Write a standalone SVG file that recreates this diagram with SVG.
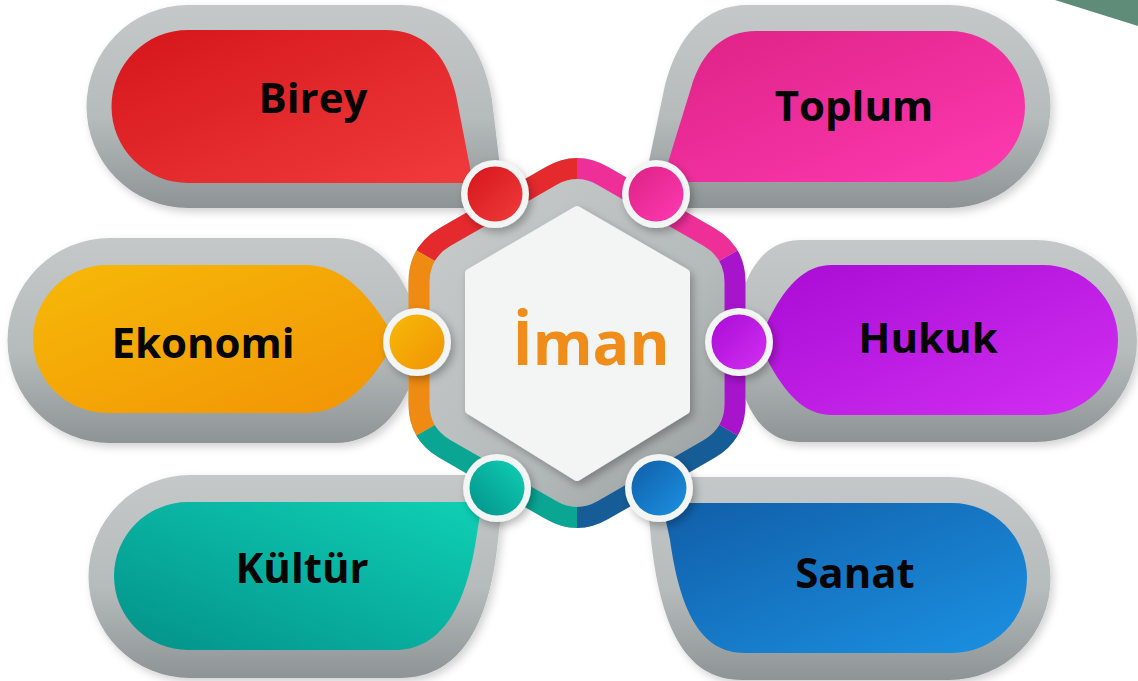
<svg xmlns="http://www.w3.org/2000/svg" width="1138" height="681" viewBox="0 0 1138 681">
<style>
.lbl{font-family:"Open Sans","Liberation Sans",sans-serif;font-weight:700;font-size:42px;fill:#050505;text-anchor:middle}
.ctr{font-family:"Open Sans","Liberation Sans",sans-serif;font-weight:700;font-size:61px;fill:#f08c1a;text-anchor:middle}
.gray{fill:url(#gGray);filter:url(#sh)}
.ring-w{fill:#f3f4f4;filter:url(#shs)}
.seg{fill:none}
</style>
<defs>
<linearGradient id="gGray" x1="0" y1="0" x2="0" y2="1">
<stop offset="0" stop-color="#c4c8c9"/><stop offset="0.55" stop-color="#b6bbbc"/><stop offset="1" stop-color="#8e9495"/>
</linearGradient>
<linearGradient id="gHexGray" x1="0" y1="0" x2="1" y2="1">
<stop offset="0" stop-color="#c9cdce"/><stop offset="0.6" stop-color="#b5babb"/><stop offset="1" stop-color="#939899"/>
</linearGradient>
<linearGradient id="gRed" x1="0" y1="0" x2="1" y2="1"><stop offset="0" stop-color="#d5161b"/><stop offset="1" stop-color="#f03b3c"/></linearGradient>
<linearGradient id="gPink" x1="0" y1="0" x2="1" y2="1"><stop offset="0" stop-color="#dd2285"/><stop offset="1" stop-color="#ff3ab2"/></linearGradient>
<linearGradient id="gOrange" x1="0" y1="0" x2="1" y2="1"><stop offset="0" stop-color="#f6b908"/><stop offset="1" stop-color="#f29305"/></linearGradient>
<linearGradient id="gPurple" x1="0" y1="0" x2="1" y2="1"><stop offset="0" stop-color="#a90cd4"/><stop offset="1" stop-color="#d22ff2"/></linearGradient>
<linearGradient id="gTeal" x1="0" y1="1" x2="1" y2="0"><stop offset="0" stop-color="#03918a"/><stop offset="1" stop-color="#0fd0b5"/></linearGradient>
<linearGradient id="gBlue" x1="0" y1="0" x2="1" y2="1"><stop offset="0" stop-color="#115ea8"/><stop offset="1" stop-color="#1b91e2"/></linearGradient>
<filter id="sh" x="-10%" y="-10%" width="125%" height="130%">
<feDropShadow dx="3" dy="4" stdDeviation="4" flood-color="#000" flood-opacity="0.18"/>
</filter>
<filter id="shs" x="-20%" y="-20%" width="140%" height="140%">
<feDropShadow dx="3" dy="4" stdDeviation="4" flood-color="#000" flood-opacity="0.28"/>
</filter>
<clipPath id="wRed"><polygon points="577,343 577,40 310,40 310,189"/></clipPath>
<clipPath id="wOrange"><polygon points="577,343 310,189 310,497"/></clipPath>
<clipPath id="wTeal"><polygon points="577,343 310,497 310,650 577,650"/></clipPath>
<clipPath id="wBlue"><polygon points="577,343 577,650 844,650 844,497"/></clipPath>
<clipPath id="wPurple"><polygon points="577,343 844,497 844,189"/></clipPath>
<clipPath id="wPink"><polygon points="577,343 844,189 844,40 577,40"/></clipPath>
<path id="ringShape" d="M551,176 Q577,161 603,176 L709,237 Q735,252 735,282 L735,404 Q735,434 709,449 L603,510 Q577,525 551,510 L445,449 Q419,434 419,404 L419,282 Q419,252 445,237 Z" stroke-width="21"/>
</defs>
<rect width="1138" height="681" fill="#ffffff"/>
<polygon points="1055,0 1138,0 1138,26" fill="#5f8b79"/>

<g id="node-birey">
<path class="gray" d="M188,5 H402 C450,5 482,40 492,100 L505,208 H188 A101.5,101.5 0 0 1 188,5 Z"/>
<path fill="url(#gRed)" d="M188,30 H385 C422,30 446,52 456,95 L473,183 H188 A76.5,76.5 0 0 1 188,30 Z"/>
<text class="lbl" x="313" y="113">Birey</text>
</g>
<g id="node-toplum">
<path class="gray" d="M949,5 H748 C705,5 678,35 665,85 L645,180 L640,208 H949 A101.5,101.5 0 0 0 949,5 Z"/>
<path fill="url(#gPink)" d="M949.5,31 H756 C725,31 702,50 691,88 L662,182 H949.5 A75.5,75.5 0 0 0 949.5,31 Z"/>
<text class="lbl" x="854" y="121">Toplum</text>
</g>
<g id="node-ekonomi">
<path class="gray" d="M110,238 H335 C375,238 402,268 418,318 L418,365 C402,415 375,443 335,443 H110 A102.5,102.5 0 0 1 110,238 Z"/>
<path fill="url(#gOrange)" d="M107,265 H305 C340,265 366,290 390,330 L390,350 C366,390 340,413 305,413 H107 A74,74 0 0 1 107,265 Z"/>
<text class="lbl" x="203" y="358">Ekonomi</text>
</g>
<g id="node-hukuk">
<path class="gray" d="M1036,240 H800 C770,240 750,262 740,300 L740,382 C750,420 770,442 800,442 H1036 A101,101 0 0 0 1036,240 Z"/>
<path fill="url(#gPurple)" d="M1043,265 H832 C805,265 785,285 766,325 L766,357 C785,395 805,415 832,415 H1043 A75,75 0 0 0 1043,265 Z"/>
<text class="lbl" x="928" y="353">Hukuk</text>
</g>
<g id="node-kultur">
<path class="gray" d="M190,475 H495 L502,505 L498,540 C490,620 463,678 400,678 H190 A101.5,101.5 0 0 1 190,475 Z"/>
<path fill="url(#gTeal)" d="M188,502 H482 L476,540 C465,610 440,650 395,650 H188 A74,74 0 0 1 188,502 Z"/>
<text class="lbl" x="302" y="583">Kültür</text>
</g>
<g id="node-sanat">
<path class="gray" d="M949,477 H660 L648,505 L651,540 C660,620 682,680 742,680 H949 A101.5,101.5 0 0 0 949,477 Z"/>
<path fill="url(#gBlue)" d="M952,503 H662 L670,540 C680,610 700,653 745,653 H952 A75,75 0 0 0 952,503 Z"/>
<text class="lbl" x="855" y="588">Sanat</text>
</g>

<g id="connectors">
<use href="#ringShape" fill="url(#gHexGray)" stroke="#bfc4c5"/>
<use href="#ringShape" class="seg" stroke="#e52a2e" clip-path="url(#wRed)"/>
<use href="#ringShape" class="seg" stroke="#ef8a12" clip-path="url(#wOrange)"/>
<use href="#ringShape" class="seg" stroke="#0aa593" clip-path="url(#wTeal)"/>
<use href="#ringShape" class="seg" stroke="#165c96" clip-path="url(#wBlue)"/>
<use href="#ringShape" class="seg" stroke="#a714cb" clip-path="url(#wPurple)"/>
<use href="#ringShape" class="seg" stroke="#ef2f98" clip-path="url(#wPink)"/>
</g>

<g id="node-iman">
<polygon class="ring-w" points="577,210 686,273 686,410 577,477 469,410 469,273" stroke="#f3f4f4" stroke-width="8" stroke-linejoin="round"/>
<text class="ctr" x="591" y="365">İman</text>
</g>

<g id="dots">
<circle cx="495" cy="194" r="34" class="ring-w"/><circle cx="495" cy="194" r="27.5" fill="url(#gRed)"/>
<circle cx="656" cy="194" r="34" class="ring-w"/><circle cx="656" cy="194" r="27.5" fill="url(#gPink)"/>
<circle cx="417" cy="342" r="34" class="ring-w"/><circle cx="417" cy="342" r="27.5" fill="url(#gOrange)"/>
<circle cx="739" cy="342" r="34" class="ring-w"/><circle cx="739" cy="342" r="27.5" fill="url(#gPurple)"/>
<circle cx="497" cy="488" r="34" class="ring-w"/><circle cx="497" cy="488" r="27.5" fill="url(#gTeal)"/>
<circle cx="659" cy="488" r="34" class="ring-w"/><circle cx="659" cy="488" r="27.5" fill="url(#gBlue)"/>
</g>
</svg>
